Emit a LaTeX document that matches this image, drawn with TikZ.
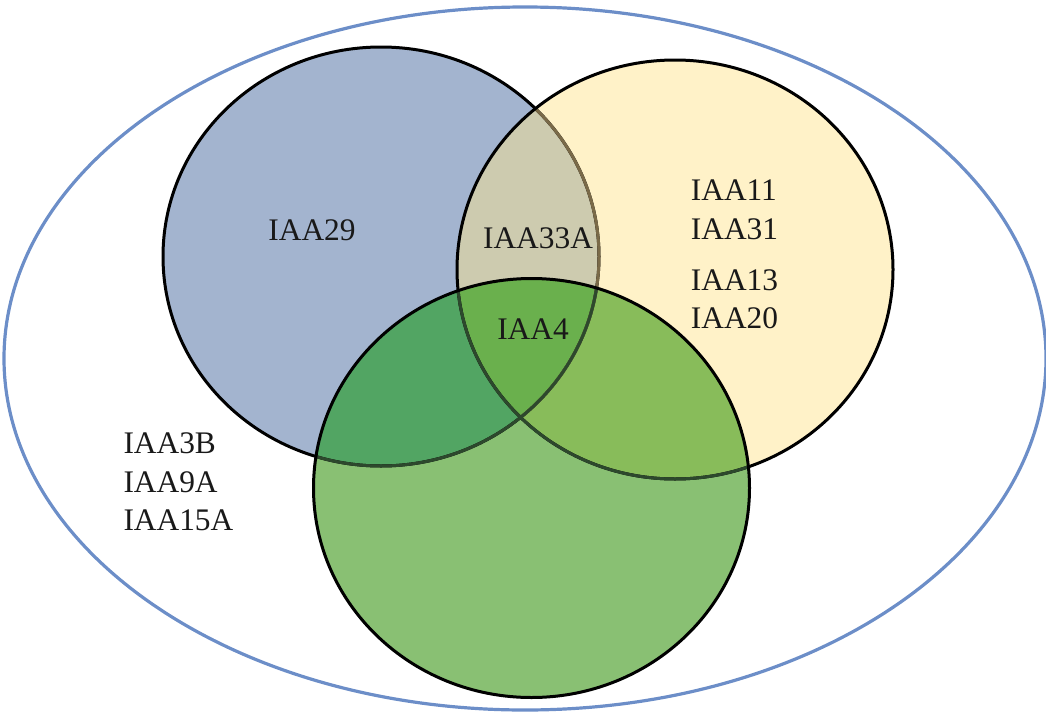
\documentclass[tikz,border=0pt]{standalone}
\usepackage{fontspec}
\setmainfont{Liberation Serif}
\definecolor{cBlue}{RGB}{163,180,207}
\definecolor{cYellow}{RGB}{255,242,200}
\definecolor{cBY}{RGB}{205,203,175}
\definecolor{cGreen}{RGB}{137,192,115}
\definecolor{cGB}{RGB}{82,165,99}
\definecolor{cGY}{RGB}{136,188,90}
\definecolor{cGBY}{RGB}{106,176,77}
\definecolor{cBrownLine}{RGB}{122,106,72}
\definecolor{cDkLine}{RGB}{45,72,45}
\definecolor{cOuter}{RGB}{108,142,200}
\begin{document}
\begin{tikzpicture}[x=1pt,y=-1pt,
  rr/.style={x radius=218, y radius=209.5},
  bord/.style={line width=3pt},
  lbl/.style={inner sep=0pt, font=\fontsize{31.4}{37}\selectfont, text={black!90}}]
\useasboundingbox (0,0) rectangle (1046,712);
\coordinate (cb) at (381,256.5);
\coordinate (cy) at (675,269.5);
\coordinate (cg) at (531.5,488);
\coordinate (co) at (525,358.5);
% outer ellipse
\draw[line width=3.2pt, cOuter] (co) ellipse [x radius=521, y radius=351.5];
% fills
\fill[cBlue] (cb) ellipse [rr];
\fill[cYellow] (cy) ellipse [rr];
\begin{scope}
  \clip (cb) ellipse [rr];
  \fill[cBY] (cy) ellipse [rr];
\end{scope}
\fill[cGreen] (cg) ellipse [rr];
\begin{scope}
  \clip (cg) ellipse [rr];
  \fill[cGB] (cb) ellipse [rr];
  \fill[cGY] (cy) ellipse [rr];
  \clip (cb) ellipse [rr];
  \fill[cGBY] (cy) ellipse [rr];
\end{scope}
% borders
\draw[bord] (cb) ellipse [rr];
\begin{scope}
  \clip (cy) ellipse [rr];
  \draw[bord, cBrownLine] (cb) ellipse [rr];
\end{scope}
\draw[bord] (cy) ellipse [rr];
\begin{scope}
  \clip (cg) ellipse [rr];
  \draw[bord, cDkLine] (cb) ellipse [rr];
  \draw[bord, cDkLine] (cy) ellipse [rr];
\end{scope}
\draw[bord] (cg) ellipse [rr];
% labels
\node[lbl, anchor=base] (t29) at (312,240) {IAA29};
\node[lbl, anchor=base] (t33a) at (538,248.3) {IAA33A};
\node[lbl, anchor=base] (t4) at (533,339.3) {IAA4};
\node[lbl, anchor=base west] (t11) at (690.7,200.7) {IAA11};
\node[lbl, anchor=base west] (t31) at (690.7,239.3) {IAA31};
\node[lbl, anchor=base west] (t13) at (690.7,290) {IAA13};
\node[lbl, anchor=base west] (t20) at (690.7,328.3) {IAA20};
\node[lbl, anchor=base west] (t3b) at (123.3,453.3) {IAA3B};
\node[lbl, anchor=base west] (t9a) at (123.3,492.7) {IAA9A};
\node[lbl, anchor=base west] (t15a) at (123.3,530.5) {IAA15A};
\end{tikzpicture}
\end{document}
